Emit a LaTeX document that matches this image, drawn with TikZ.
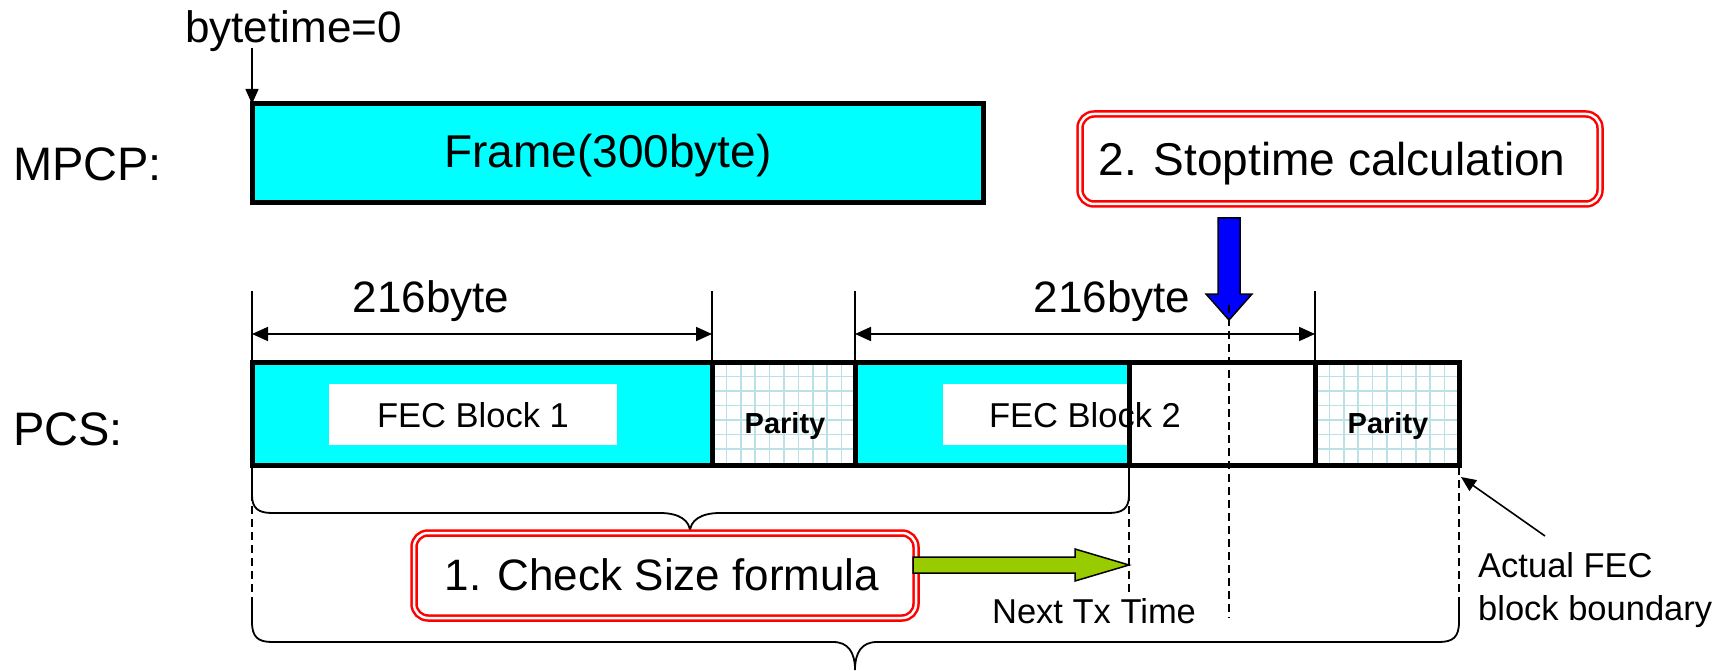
\documentclass[tikz,border=0pt]{standalone}
\usepackage{fontspec}
\setmainfont{Liberation Sans}
\usetikzlibrary{arrows.meta}
\definecolor{aqua}{HTML}{00FFFF}
\definecolor{gridc}{RGB}{185,225,230}
\definecolor{lime}{HTML}{99CC00}
\definecolor{bblue}{HTML}{0000FF}
\definecolor{rred}{HTML}{FF0000}
\begin{document}
\begin{tikzpicture}[x=1pt,y=-1pt,
  big/.style={inner sep=0pt, font=\fontsize{44}{50}\selectfont},
  bigger/.style={inner sep=0pt, font=\fontsize{46}{52}\selectfont},
  lab/.style={inner sep=0pt, font=\fontsize{47}{52}\selectfont},
  mid/.style={inner sep=0pt, font=\fontsize{34.5}{40}\selectfont},
  par/.style={inner sep=0pt, font=\fontsize{29}{34}\selectfont\bfseries},
  thickline/.style={line width=5pt},
  thinline/.style={line width=1.6pt},
  dimarrow/.style={line width=1.8pt, {Triangle[length=16pt,width=14pt]}-{Triangle[length=16pt,width=14pt]}},
  tiparrow/.style={line width=1.6pt, -{Triangle[length=15pt,width=13pt]}},
  dashline/.style={line width=2pt, dash pattern=on 8pt off 5pt},
  redbox/.style={draw=rred, line width=2.5pt, double=white, double distance=2.5pt, rounded corners=14pt, fill=white},
  gridline/.style={gridc, line width=1.5pt},
  bracel/.style={line width=1.8pt}
]
\useasboundingbox (0,0) rectangle (1722,671);

% ---------- MPCP row ----------
\node[lab, anchor=base west] (mpcp) at (13,181) {MPCP:};
\draw[thickline, fill=aqua] (252,104) rectangle (983,203);
\coordinate (frameNW) at (252,104);
\node[bigger, anchor=base] (frame) at (608,168) {Frame(300byte)};
\node[big, anchor=base west] (bt) at (185,43) {bytetime=0};
\coordinate (btfoot) at (252,48);
\draw[tiparrow] (btfoot) -- (frameNW);

% ---------- Stoptime box ----------
\node[redbox, minimum width=520pt, minimum height=90pt] (stop) at (1340,159) {};
\node[bigger, anchor=base] (stoptxt) at (1332,176) {2. Stoptime calculation};

% ---------- PCS row ----------
\node[lab, anchor=base west] (pcs) at (13,445) {PCS:};
% fills
\fill[aqua] (252,362) rectangle (712,465);
\fill[aqua] (855,362) rectangle (1129,465);
% parity grids
\begin{scope}
\clip (712,362) rectangle (855,465);
\foreach \i in {1,...,10} \draw[gridline] (712+\i*14.4,362) -- ++(0,103);
\foreach \j in {1,...,7} \draw[gridline] (712,362+\j*14.5) -- ++(143,0);
\end{scope}
\begin{scope}
\clip (1315,362) rectangle (1459,465);
\foreach \i in {1,...,10} \draw[gridline] (1315+\i*14.4,362) -- ++(0,103);
\foreach \j in {1,...,7} \draw[gridline] (1315,362+\j*14.5) -- ++(144,0);
\end{scope}
% white label boxes
\fill[white] (329,384) rectangle (617,445);
\fill[white] (943,384) rectangle (1129,445);
% outlines
\draw[thickline] (252,362) rectangle (1459,465);
\foreach \xx in {712,855,1129,1315} \draw[thickline] (\xx,362) -- (\xx,465);
% texts
\node[mid, anchor=base] (fec1) at (473,427) {FEC Block 1};
\node[mid, anchor=base] (fec2) at (1085,427) {FEC Block 2};
\node[par, anchor=base] (par1) at (785,433) {Parity};
\node[par, anchor=base] (par2) at (1388,433) {Parity};

% ---------- dimension lines ----------
\coordinate (t1) at (252,291); \coordinate (t1b) at (252,362);
\coordinate (t2) at (712,291); \coordinate (t2b) at (712,362);
\coordinate (t3) at (855,291); \coordinate (t3b) at (855,362);
\coordinate (t4) at (1315,291); \coordinate (t4b) at (1315,362);
\draw[thinline] (t1) -- (t1b);
\draw[thinline] (t2) -- (t2b);
\draw[thinline] (t3) -- (t3b);
\draw[thinline] (t4) -- (t4b);
\coordinate (d1a) at (252,334); \coordinate (d1b) at (712,334);
\coordinate (d2a) at (855,334); \coordinate (d2b) at (1315,334);
\draw[dimarrow] (d1a) -- (d1b);
\draw[dimarrow] (d2a) -- (d2b);
\node[big, anchor=base] (b216a) at (431,312) {216byte};
\node[big, anchor=base] (b216b) at (1112,312) {216byte};

% ---------- blue arrow ----------
\draw[line width=1.5pt, fill=bblue] (1218,218) -- (1240,218) -- (1240,294) -- (1252,294) -- (1229,320) -- (1206,294) -- (1218,294) -- cycle;

% ---------- dashed verticals ----------
\coordinate (v1a) at (252,467); \coordinate (v1b) at (252,600);
\coordinate (v2a) at (1129,467); \coordinate (v2b) at (1129,592);
\coordinate (v3a) at (1229,305); \coordinate (v3b) at (1229,618);
\coordinate (v4a) at (1459,467); \coordinate (v4b) at (1459,600);
\draw[dashline] (v1a) -- (v1b);
\draw[dashline] (v2a) -- (v2b);
\draw[dashline] (v3a) -- (v3b);
\draw[dashline] (v4a) -- (v4b);

% ---------- top brace ----------
\draw[bracel] (252,472) -- (252,495) .. controls (252,508) and (258,513) .. (272,513)
  -- (660,513) .. controls (680,513) and (690,521) .. (690,532)
  .. controls (690,521) and (700,513) .. (720,513)
  -- (1109,513) .. controls (1123,513) and (1129,508) .. (1129,495) -- (1129,472);

% ---------- bottom brace ----------
\draw[bracel] (252,600) -- (252,622) .. controls (252,637) and (258,642) .. (272,642)
  -- (833,642) .. controls (848,642) and (855,652) .. (855,670)
  .. controls (855,652) and (862,642) .. (877,642)
  -- (1439,642) .. controls (1453,642) and (1459,637) .. (1459,622) -- (1459,600);

% ---------- Check size box ----------
\node[redbox, minimum width=502pt, minimum height=85pt] (check) at (665,575.5) {};
\node[big, anchor=base] (checktxt) at (662,590) {1. Check Size formula};

% ---------- green arrow ----------
\draw[line width=1.5pt, fill=lime] (913,557) -- (1075,557) -- (1075,549) -- (1129,565) -- (1075,581) -- (1075,573) -- (913,573) -- cycle;

\node[mid, anchor=base] (next) at (1094,623) {Next Tx Time};

% ---------- Actual FEC label ----------
\node[mid, anchor=base west] (act1) at (1478,577) {Actual FEC};
\node[mid, anchor=base west] (act2) at (1478,620) {block boundary};
\coordinate (actfrom) at (1545,536);
\coordinate (actto) at (1461,477);
\draw[tiparrow] (actfrom) -- (actto);
\end{tikzpicture}
\end{document}
